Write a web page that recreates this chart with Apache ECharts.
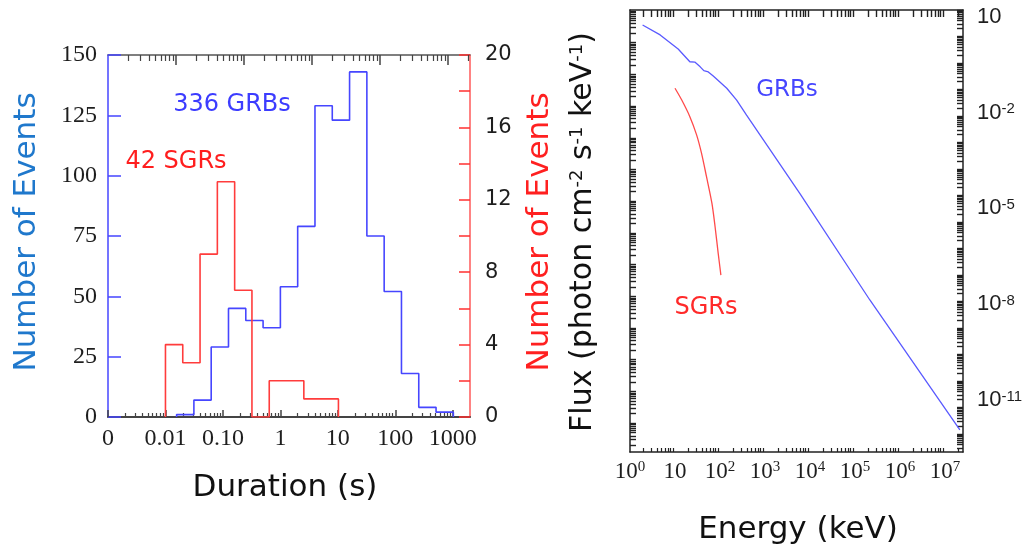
<!DOCTYPE html>
<html>
<head>
<meta charset="utf-8">
<title>GRB and SGR durations and spectra</title>
<script src="https://cdn.jsdelivr.net/npm/echarts@6/dist/echarts.min.js"></script>
<style>
  html, body { margin: 0; padding: 0; background: #ffffff; }
  #main { width: 1025px; height: 554px; }
</style>
</head>
<body>
<div id="main"></div>
<script>
// ---- Duration histograms (bin edges in seconds, factor-of-two bins) ----
const grbEdges = [0.015625, 0.03125, 0.0625, 0.125, 0.25, 0.5, 1, 2, 4, 8, 16, 32, 64, 128, 256, 512, 1024];
const grbCounts = [1, 7, 29, 45, 40, 37, 54, 79, 129, 123, 143, 75, 52, 18, 4, 2];
const sgrEdges = [0.01, 0.02, 0.04, 0.08, 0.16, 0.32, 0.64, 1.28, 2.56, 5.12, 10.24];
const sgrCounts = [4, 3, 9, 13, 7, 0, 2, 2, 1, 1];

// duration axis runs in log10(seconds); "0" sits at the left end
const durationTicks = [-3, -2, -1, 0, 1, 2, 3];
const durationTickLabels = ['0', '0.01', '0.10', '1', '10', '100', '1000'];
const grbCountTicks = [0, 25, 50, 75, 100, 125, 150];
const sgrCountLabelTicks = [0, 4, 8, 12, 16, 20];
const sgrCountTicks = [0, 2, 4, 6, 8, 10, 12, 14, 16, 18, 20];

// ---- Photon spectra (log10 keV, log10 photon cm^-2 s^-1 keV^-1) ----
const grbLogE = [0.28, 0.67, 1.07, 1.33, 1.44, 1.56, 1.64, 1.74, 1.85, 2.15, 2.37, 2.59, 3.78, 5.33, 7.33];
const grbLogF = [0.74, 0.43, -0.01, -0.41, -0.42, -0.57, -0.69, -0.73, -0.86, -1.24, -1.61, -2.08, -4.55, -7.87, -11.94];
const sgrLogE = [1.00, 1.15, 1.33, 1.48, 1.59, 1.70, 1.82, 1.89, 1.96, 2.02];
const sgrLogF = [-1.24, -1.61, -2.13, -2.70, -3.28, -4.01, -4.84, -5.57, -6.41, -7.09];

const energyTicks = [0, 1, 2, 3, 4, 5, 6, 7];
const fluxTicks = [1, -2, -5, -8, -11];

// ---- helpers ----
function stepPoints(edges, counts) {
  const pts = [[Math.log10(edges[0]), 0]];
  counts.forEach((c, i) => pts.push([Math.log10(edges[i]), c]));
  pts.push([Math.log10(edges[edges.length - 1]), 0]);
  return pts;
}
function decades(lo, hi) {
  const out = [];
  for (let n = Math.ceil(lo); n <= Math.floor(hi); n++) out.push(n);
  return out;
}
function logMinors(lo, hi) {
  const out = [];
  for (let n = Math.floor(lo) - 1; n <= Math.ceil(hi); n++) {
    for (let k = 2; k <= 9; k++) {
      const v = n + Math.log10(k);
      if (v >= lo && v <= hi) out.push(v);
    }
  }
  return out;
}
function pairs(xs, ys) { return xs.map((x, i) => [x, ys[i]]); }
function powLabel(v) {
  const n = Math.round(v);
  return n === 1 ? '10' : '10{s|' + n + '}';
}
function line(color, width) {
  return { onZero: false, lineStyle: { color: color, width: width } };
}

const COMIC = "'Comic Sans MS', 'DejaVu Sans', sans-serif";
const SERIF = "'Liberation Serif', 'DejaVu Serif', serif";
const BLUE = '#4646ff';
const RED = '#ff3c3c';
const hidden = { show: false };
const noLine = { show: false, onZero: false };

// left panel ranges
const durMin = -3, durMax = 3.3;
const topMin = 0, topMax = 5.32;
// right panel ranges
const eMin = 0, eMax = 7.4;
const fMin = -12.63, fMax = 1.21;
const leftTickMin = -13.91, leftTickMax = 0.03;
const rightTickMin = -16.68, rightTickMax = 0;

const chart = echarts.init(document.getElementById('main'), null, { renderer: 'canvas' });

const option = {
  backgroundColor: '#ffffff',
  animation: false,
  grid: [
    { left: 108, right: 555, top: 55, bottom: 137, outerBoundsMode: 'none' },
    { left: 630, right: 62, top: 10, bottom: 102, outerBoundsMode: 'none' }
  ],
  xAxis: [
    // 0: duration axis with labels and decade ticks
    {
      type: 'value', gridIndex: 0, position: 'bottom', min: durMin, max: durMax,
      axisLine: line('#444', 2),
      axisTick: { inside: true, length: 7, customValues: durationTicks, lineStyle: { color: '#444', width: 1.5 } },
      axisLabel: {
        customValues: durationTicks, margin: 10, color: '#1e1e1e', fontFamily: SERIF, fontSize: 24,
        formatter: v => durationTickLabels[durationTicks.indexOf(Math.round(v))]
      },
      splitLine: hidden
    },
    // 1: minor log ticks on the duration axis
    {
      type: 'value', gridIndex: 0, position: 'bottom', min: durMin, max: durMax,
      axisLine: noLine,
      axisTick: { inside: true, length: 4, customValues: logMinors(durMin, durMax), lineStyle: { color: '#444', width: 1.2 } },
      axisLabel: hidden, splitLine: hidden
    },
    // 2: top frame, decade ticks
    {
      type: 'value', gridIndex: 0, position: 'top', min: topMin, max: topMax,
      axisLine: line('#555', 1.5),
      axisTick: { inside: true, length: 10, customValues: decades(topMin + 0.5, topMax), lineStyle: { color: '#444', width: 1.5 } },
      axisLabel: hidden, splitLine: hidden
    },
    // 3: top frame, minor ticks
    {
      type: 'value', gridIndex: 0, position: 'top', min: topMin, max: topMax,
      axisLine: noLine,
      axisTick: { inside: true, length: 6, customValues: logMinors(topMin, topMax), lineStyle: { color: '#444', width: 1.2 } },
      axisLabel: hidden, splitLine: hidden
    },
    // 4: energy axis
    {
      type: 'value', gridIndex: 1, position: 'bottom', min: eMin, max: eMax,
      axisLine: line('#222', 1.5),
      axisTick: { inside: true, length: 4, customValues: logMinors(eMin, eMax), lineStyle: { color: '#222', width: 1.2 } },
      axisLabel: {
        customValues: energyTicks, margin: 8, color: '#1e1e1e', fontFamily: SERIF, fontSize: 23,
        formatter: powLabel,
        rich: { s: { fontFamily: SERIF, fontSize: 15, verticalAlign: 'top', lineHeight: 15, color: '#1e1e1e' } }
      },
      splitLine: hidden
    },
    // 5: top frame of the spectrum panel
    {
      type: 'value', gridIndex: 1, position: 'top', min: eMin, max: eMax,
      axisLine: line('#222', 1.5),
      axisTick: { inside: true, length: 7, customValues: logMinors(eMin, eMax), lineStyle: { color: '#222', width: 1.4 } },
      axisLabel: hidden, splitLine: hidden
    }
  ],
  yAxis: [
    // 0: GRB counts (left)
    {
      type: 'value', gridIndex: 0, position: 'left', min: 0, max: 150, interval: 25,
      axisLine: line(BLUE, 1.5),
      axisTick: { inside: true, length: 13, lineStyle: { color: BLUE, width: 1.5 } },
      axisLabel: {
        customValues: grbCountTicks, margin: 11, color: '#1e1e1e', fontFamily: SERIF, fontSize: 24,
        padding: [0, 0, 10, 0]
      },
      splitLine: hidden
    },
    // 1: SGR counts (right)
    {
      type: 'value', gridIndex: 0, position: 'right', min: 0, max: 20,
      axisLine: line('#ff5a5a', 1.5),
      axisTick: { inside: true, length: 11, customValues: sgrCountTicks, lineStyle: { color: '#ff3030', width: 1.5 } },
      axisLabel: {
        customValues: sgrCountLabelTicks, margin: 15, color: '#1e1e1e',
        fontFamily: "'DejaVu Sans', sans-serif", fontSize: 21, padding: [0, 0, 4, 0]
      },
      splitLine: hidden
    },
    // 2: flux axis (labels on the right)
    {
      type: 'value', gridIndex: 1, position: 'right', min: fMin, max: fMax,
      axisLine: line('#222', 1.5),
      axisTick: hidden,
      axisLabel: {
        customValues: fluxTicks, margin: 14, color: '#1e1e1e',
        fontFamily: "'Liberation Sans', Arial, sans-serif", fontSize: 22,
        formatter: powLabel,
        rich: { s: { fontFamily: "'Liberation Sans', Arial, sans-serif", fontSize: 15, verticalAlign: 'top', lineHeight: 15, color: '#1e1e1e' } }
      },
      splitLine: hidden
    },
    // 3: left frame of the spectrum panel with log ticks
    {
      type: 'value', gridIndex: 1, position: 'left', min: leftTickMin, max: leftTickMax,
      axisLine: line('#222', 1.5),
      axisTick: {
        inside: true, length: 6,
        customValues: decades(leftTickMin, leftTickMax).concat(logMinors(leftTickMin, leftTickMax)),
        lineStyle: { color: '#222', width: 1.4 }
      },
      axisLabel: hidden, splitLine: hidden
    },
    // 4: right frame ticks of the spectrum panel
    {
      type: 'value', gridIndex: 1, position: 'right', min: rightTickMin, max: rightTickMax,
      axisLine: noLine,
      axisTick: {
        inside: true, length: 6,
        customValues: decades(rightTickMin, rightTickMax).concat(logMinors(rightTickMin, rightTickMax)),
        lineStyle: { color: '#222', width: 1.4 }
      },
      axisLabel: hidden, splitLine: hidden
    }
  ],
  series: [
    {
      name: 'GRB durations', type: 'line', xAxisIndex: 0, yAxisIndex: 0,
      step: 'end', symbol: 'none', data: stepPoints(grbEdges, grbCounts),
      lineStyle: { color: BLUE, width: 1.6 }, z: 3
    },
    {
      name: 'SGR durations', type: 'line', xAxisIndex: 0, yAxisIndex: 1,
      step: 'end', symbol: 'none', data: stepPoints(sgrEdges, sgrCounts),
      lineStyle: { color: RED, width: 1.6 }, z: 4
    },
    {
      name: 'GRB spectrum', type: 'line', xAxisIndex: 4, yAxisIndex: 2,
      symbol: 'none', data: pairs(grbLogE, grbLogF),
      lineStyle: { color: '#5a5aff', width: 1.3 }
    },
    {
      name: 'SGR spectrum', type: 'line', xAxisIndex: 4, yAxisIndex: 2,
      symbol: 'none', smooth: 0.3, data: pairs(sgrLogE, sgrLogF),
      lineStyle: { color: '#ff4a4a', width: 1.3 }
    }
  ],
  graphic: [
    {
      type: 'text', x: 27, y: 232, rotation: Math.PI / 2,
      style: { text: 'Number of Events', fill: '#1f78cc', font: "31px 'DejaVu Sans', sans-serif", align: 'center', verticalAlign: 'middle' }
    },
    {
      type: 'text', x: 540, y: 232, rotation: Math.PI / 2,
      style: { text: 'Number of Events', fill: '#ff2020', font: "31px 'DejaVu Sans', sans-serif", align: 'center', verticalAlign: 'middle' }
    },
    {
      type: 'text', x: 285, y: 488,
      style: { text: 'Duration (s)', fill: '#111', font: '31px ' + COMIC, align: 'center', verticalAlign: 'middle' }
    },
    {
      type: 'text', x: 232, y: 105,
      style: { text: '336 GRBs', fill: '#3c3cff', font: '24px ' + COMIC, align: 'center', verticalAlign: 'middle' }
    },
    {
      type: 'text', x: 176, y: 162,
      style: { text: '42 SGRs', fill: '#ff1e1e', font: '24px ' + COMIC, align: 'center', verticalAlign: 'middle' }
    },
    {
      type: 'text', x: 583, y: 232, rotation: Math.PI / 2,
      style: {
        text: 'Flux (photon cm{s|-2} s{s|-1} keV{s|-1})',
        fill: '#111', font: "30px 'DejaVu Sans', sans-serif", align: 'center', verticalAlign: 'middle',
        rich: {
          s: { fontFamily: "'DejaVu Sans', sans-serif", fontSize: 18, verticalAlign: 'top', lineHeight: 18, fill: '#111' }
        }
      }
    },
    {
      type: 'text', x: 798, y: 530,
      style: { text: 'Energy (keV)', fill: '#111', font: '31px ' + COMIC, align: 'center', verticalAlign: 'middle' }
    },
    {
      type: 'text', x: 787, y: 90,
      style: { text: 'GRBs', fill: '#4646ff', font: '23px ' + COMIC, align: 'center', verticalAlign: 'middle' }
    },
    {
      type: 'text', x: 706, y: 308,
      style: { text: 'SGRs', fill: '#ff2a2a', font: '24px ' + COMIC, align: 'center', verticalAlign: 'middle' }
    }
  ]
};

chart.setOption(option);
</script>
</body>
</html>
